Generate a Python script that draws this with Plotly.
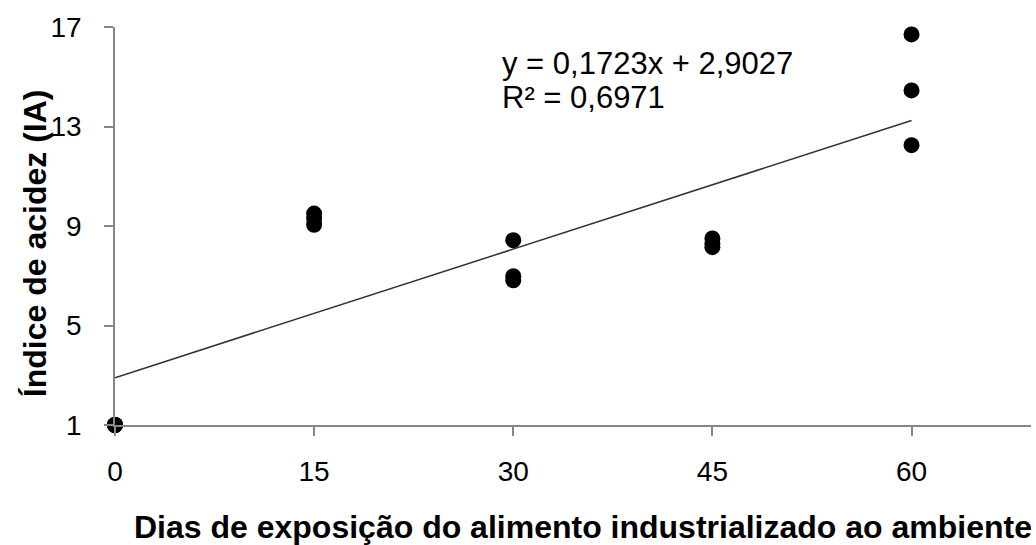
import plotly.graph_objects as go

# Data
dias = [0, 0, 0, 15, 15, 15, 30, 30, 30, 45, 45, 45, 60, 60, 60]
indice_acidez = [1.0, 1.0, 1.0, 9.5, 9.3, 9.05, 8.43, 6.98, 6.82, 8.5, 8.3, 8.15, 16.7, 14.45, 12.25]

slope = 0.1723
intercept = 2.9027
r2 = 0.6971

x_ticks = [0, 15, 30, 45, 60]
y_ticks = [1, 5, 9, 13, 17]

trend_x = [min(dias), max(dias)]
trend_y = [intercept + slope * v for v in trend_x]

font = "Liberation Sans, Arial, sans-serif"
axis_color = "#868686"

fig = go.Figure()
fig.add_trace(go.Scatter(
    x=trend_x, y=trend_y, mode="lines",
    line=dict(color="#303030", width=1.5),
    showlegend=False, hoverinfo="skip",
))
fig.add_trace(go.Scatter(
    x=dias, y=indice_acidez, mode="markers",
    marker=dict(color="black", size=16),
    cliponaxis=False, showlegend=False,
))

eq_text = "y = " + f"{slope:.4f}".replace(".", ",") + "x + " + f"{intercept:.4f}".replace(".", ",")
r2_text = "R² = " + f"{r2:.4f}".replace(".", ",")

fig.add_annotation(
    x=0.42, y=0.9095, xref="paper", yref="paper", xanchor="left", yanchor="middle",
    text=eq_text, showarrow=False, font=dict(family=font, size=31, color="black"),
)
fig.add_annotation(
    x=0.42, y=0.824, xref="paper", yref="paper", xanchor="left", yanchor="middle",
    text=r2_text, showarrow=False, font=dict(family=font, size=31, color="black"),
)
fig.add_annotation(
    x=0.511, y=-0.256, xref="paper", yref="paper", xanchor="center", yanchor="middle",
    text="<b>Dias de exposição do alimento industrializado ao ambiente</b>", showarrow=False,
    font=dict(family=font, size=32, color="black"),
)
fig.add_annotation(
    x=-0.0873, y=0.457, xref="paper", yref="paper", xanchor="center", yanchor="middle",
    text="<b>Índice de acidez (IA)</b>", showarrow=False, textangle=-90,
    font=dict(family=font, size=32, color="black"),
)

fig.update_layout(
    width=1036, height=545,
    margin=dict(l=115, r=5, t=27, b=120),
    plot_bgcolor="white", paper_bgcolor="white",
    font=dict(family=font, color="black"),
    xaxis=dict(
        range=[0, 69], tickvals=x_ticks, ticktext=[str(v) for v in x_ticks],
        showgrid=False, zeroline=False, showline=True, linecolor=axis_color, linewidth=1.5,
        ticks="outside", ticklen=9, tickcolor=axis_color, tickwidth=1.5,
        tickfont=dict(family=font, size=28), ticklabelstandoff=12, automargin=False,
    ),
    yaxis=dict(
        range=[1, 17], tickvals=y_ticks, ticktext=[str(v) for v in y_ticks],
        showgrid=False, zeroline=False, showline=True, linecolor=axis_color, linewidth=1.5,
        ticks="outside", ticklen=9, tickcolor=axis_color, tickwidth=1.5,
        tickfont=dict(family=font, size=28), ticklabelstandoff=17, automargin=False,
    ),
)

fig.write_html(
    "out.html",
    config={"displayModeBar": False},
    post_script="document.body.style.margin='0';document.body.style.overflow='hidden';",
)
